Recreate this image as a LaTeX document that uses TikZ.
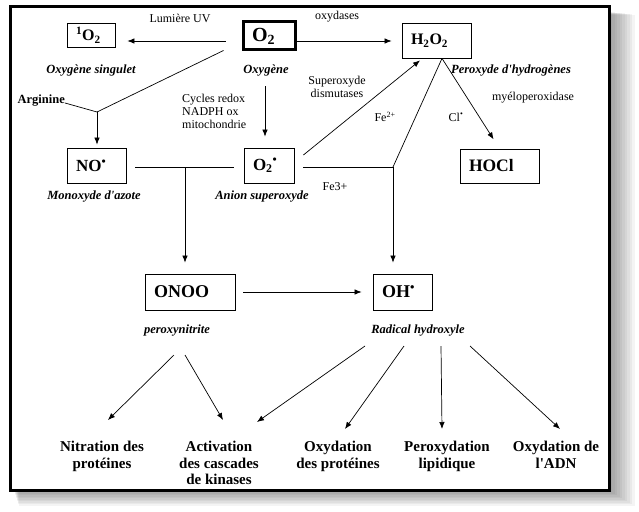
\documentclass[tikz,border=0pt]{standalone}
\usepackage{fontspec}
\setmainfont{Liberation Serif}
\usetikzlibrary{arrows.meta,calc}
\begin{document}
\begin{tikzpicture}[x=1pt,y=-1pt,
 box/.style={draw, line width=0.8pt, inner xsep=9pt, inner ysep=0pt, align=left},
 arr/.style={line width=0.7pt, -{Latex[length=7pt,width=5.5pt]}},
 ln/.style={line width=0.7pt},
 lab/.style={font=\fontsize{12}{13}\selectfont, inner sep=0pt},
 ital/.style={font=\fontsize{12.5}{13}\selectfont\bfseries\itshape, inner sep=0pt},
 bot/.style={font=\fontsize{15}{16.5}\selectfont\bfseries, align=center, inner sep=0pt, anchor=north}]
\useasboundingbox (0,0) rectangle (639,511);
% frame with shadow
\foreach \i in {0,...,9}
  \fill[black,opacity=0.045] (14+\i*0.5, 12+\i*0.3) rectangle (612+\i*2.5, 492+\i*1.5);
\fill[white] (10,7) rectangle (609,490);
\draw[line width=3pt] (10,7) rectangle (609,490);

% boxes
\node[box, text width=30pt, minimum height=24pt, font=\fontsize{16}{16}\selectfont\bfseries] (s1O2) at (91,35) {\textsuperscript{1}O\textsubscript{2}};
\node[box, line width=3pt, text width=34pt, minimum height=28pt, font=\fontsize{20}{20}\selectfont\bfseries] (O2) at (269,36) {O\textsubscript{2}};
\node[box, text width=51pt, minimum height=35pt, font=\fontsize{16}{16}\selectfont\bfseries] (H2O2) at (436.5,40.5) {H\textsubscript{2}O\textsubscript{2}};
\node[box, text width=41pt, minimum height=35pt, font=\fontsize{17}{17}\selectfont\bfseries] (NO) at (96.5,165.5) {NO\textsuperscript{\textbullet}};
\node[box, text width=32pt, minimum height=35pt, font=\fontsize{17}{17}\selectfont\bfseries] (O2r) at (269,165.5) {O\textsubscript{2}\textsuperscript{\textbullet}};
\node[box, text width=61pt, minimum height=34pt, font=\fontsize{17.5}{17.5}\selectfont\bfseries] (HOCl) at (499.5,166) {HOCl};
\node[box, text width=72pt, minimum height=36pt, font=\fontsize{18}{18}\selectfont\bfseries] (ONOO) at (190,292) {ONOO};
\node[box, text width=41pt, minimum height=36pt, font=\fontsize{18}{18}\selectfont\bfseries] (OH) at (402.5,292) {OH\textsuperscript{\textbullet}};

% italic captions
\node[ital] (cs1) at (91,71) {Oxygène singulet};
\node[ital] (cO2) at (266,71) {Oxygène};
\node[ital] (cH2O2) at (511,71) {Peroxyde d\textquotesingle hydrogènes};
\node[ital] (cNO) at (94,197) {Monoxyde d\textquotesingle azote};
\node[ital] (cO2r) at (262,197) {Anion superoxyde};
\node[ital] (cONOO) at (177,331) {peroxynitrite};
\node[ital] (cOH) at (418,331) {Radical hydroxyle};

% plain labels
\node[lab] (uv) at (180,18) {Lumière UV};
\node[lab] (oxy) at (337,17) {oxydases};
\node[lab, align=center] (sod) at (337,86.5) {Superoxyde\\dismutases};
\node[lab] (mpo) at (533,98) {myéloperoxidase};
\node[lab] (fe2) at (385,117) {Fe\textsuperscript{2+}};
\node[lab] (cl) at (456,117) {Cl\textsuperscript{\textbullet}};
\node[lab] (fe3) at (335,187) {Fe3+};
\node[lab, align=left, anchor=west] (cyc) at (182,111) {Cycles redox\\NADPH ox\\mitochondrie};
\node[lab, font=\fontsize{12.5}{13}\selectfont\bfseries, anchor=east] (arg) at (65,101) {Arginine};

% bottom labels
\node[bot] (b1) at (102,441) {Nitration des\\protéines};
\node[bot] (b2) at (219,441) {Activation\\des cascades\\de kinases};
\node[bot] (b3) at (338,441) {Oxydation\\des protéines};
\node[bot] (b4) at (447,441) {Peroxydation\\lipidique};
\node[bot] (b5) at (556,441) {Oxydation de\\l\textquotesingle ADN};

% connectors
\draw[arr, shorten <=16pt, shorten >=12pt] ([yshift=-5pt]O2.west) -- ([yshift=-6pt]s1O2.east);
\draw[arr, shorten >=10pt] ([yshift=-5pt]O2.east) -- ([yshift=-0.5pt]H2O2.west);

\coordinate (j1) at (97,112);
\draw[ln] ([shift={(-18pt,1pt)}]O2.south west) -- (j1);
\draw[ln] ([yshift=-2pt]arg.east) -- (j1);
\draw[arr, shorten >=3pt] (j1) -- (j1 |- NO.north);

\coordinate (c1) at (265,86);
\draw[arr, shorten >=11pt] (c1) -- (c1 |- O2r.north);

\draw[ln, shorten <=9pt, shorten >=10pt] ([yshift=-1.5pt]NO.east) -- ([yshift=-1.5pt]O2r.west);
\coordinate (j2) at (185,167);
\draw[arr, shorten >=11pt] (j2) -- (j2 |- ONOO.north);

\draw[arr, shorten <=8pt, shorten >=11pt] (ONOO.east) -- (OH.west);

\draw[arr] ([shift={(9pt,10.5pt)}]O2r.east) -- ([shift={(-16.5pt,-2pt)}]H2O2.south);
\coordinate (j3) at (393,167);
\draw[ln] ([xshift=5.5pt]H2O2.south) -- (j3);
\draw[ln, shorten <=9pt] ([yshift=-1.5pt]O2r.east) -- (j3);
\draw[arr, shorten >=11pt] (j3) -- (j3 |- OH.north);
\draw[arr, shorten >=11pt] ([xshift=5.5pt]H2O2.south) -- (HOCl.north);

\coordinate (p1) at (174,355);
\coordinate (p2) at (185,355);
\coordinate (q1) at (365,346);
\coordinate (q2) at (404,346);
\coordinate (q3) at (441,346);
\coordinate (q4) at (470,346);
\draw[arr] (p1) -- ([shift={(6pt,21pt)}]b1.north);
\draw[arr] (p2) -- ([shift={(4pt,21pt)}]b2.north);
\draw[arr] (q1) -- ([shift={(38pt,19pt)}]b2.north);
\draw[arr] (q2) -- ([shift={(7pt,12pt)}]b3.north);
\draw[arr] (q3) -- ([shift={(-5pt,12pt)}]b4.north);
\draw[arr] (q4) -- ([shift={(4pt,12pt)}]b5.north);
\end{tikzpicture}
\end{document}
